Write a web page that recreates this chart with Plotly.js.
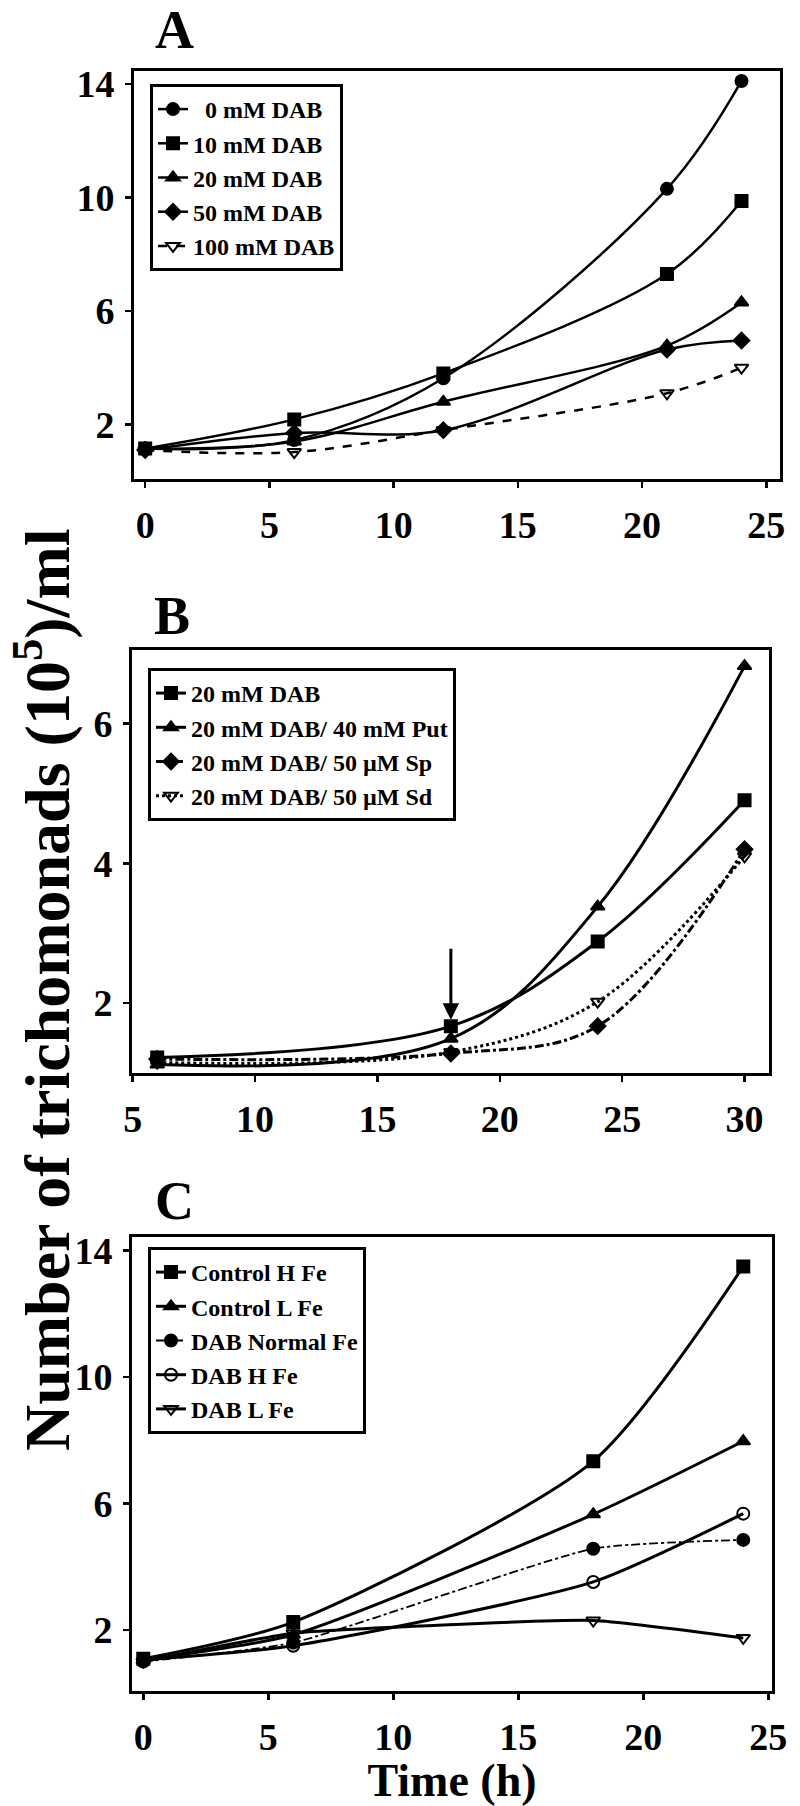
<!DOCTYPE html>
<html>
<head>
<meta charset="utf-8">
<script src="https://cdn.plot.ly/plotly-3.0.1.min.js"></script>
<style>html,body{margin:0;padding:0;background:#fff;}#chart{width:800px;height:1806px;}</style>
</head>
<body>
<div id="chart"></div>
<script>
// ---------- Panel A: DAB concentrations ----------
const timeA = [0, 6, 12, 21, 24];
const namesA = ["\u00A0\u00A00 mM DAB", "10 mM DAB", "20 mM DAB", "50 mM DAB", "100 mM DAB"];
const dab0   = [1.15, 1.45, 3.63, 10.3, 14.1];
const dab10  = [1.15, 2.18, 3.80, 7.30, 9.87];
const dab20  = [1.15, 1.40, 2.80, 4.78, 6.30];
const dab50  = [1.10, 1.70, 1.80, 4.64, 4.96];
const dab100 = [1.10, 1.03, 1.80, 3.10, 4.00];

// ---------- Panel B: polyamine rescue ----------
const timeB = [6, 18, 24, 30];
const namesB = ["20 mM DAB", "20 mM DAB/ 40 mM Put", "20 mM DAB/ 50 \u00B5M Sp", "20 mM DAB/ 50 \u00B5M Sd"];
const b20  = [1.22, 1.67, 2.88, 4.90];
const bPut = [1.12, 1.49, 3.38, 6.82];
const bSp  = [1.20, 1.28, 1.67, 4.20];
const bSd  = [1.15, 1.30, 2.02, 4.10];
const arrowX = 18, arrowTip = 1.76, arrowTail = 2.9;

// ---------- Panel C: iron conditions ----------
const timeC = [0, 6, 18, 24];
const namesC = ["Control H Fe", "Control L Fe", "DAB Normal Fe", "DAB H Fe", "DAB L Fe"];
const cHFe  = [1.09, 2.25, 7.34, 13.5];
const cLFe  = [1.05, 1.85, 5.66, 7.97];
const dNorm = [1.00, 1.60, 4.57, 4.85];
const dHFe  = [1.05, 1.50, 3.52, 5.68];
const dLFe  = [1.00, 1.90, 2.30, 1.75];

// tick labels
const ticksA_x = [0, 5, 10, 15, 20, 25];
const ticksA_y = [2, 6, 10, 14];
const ticksB_x = [5, 10, 15, 20, 25, 30];
const ticksB_y = [2, 4, 6];
const ticksC_x = [0, 5, 10, 15, 20, 25];
const ticksC_y = [2, 6, 10, 14];

const FAM = "Liberation Serif, 'Times New Roman', Times, serif";
const W = 800, H = 1806;
const px = v => v / W;
const py = v => 1 - v / H;

function tr(x, y, name, xa, ya, lg, symbol, dash, lw, smooth) {
  return {
    type: 'scatter', mode: 'lines+markers', x: x, y: y, name: name,
    xaxis: xa, yaxis: ya, legend: lg,
    line: {color: 'black', width: lw || 2.5, shape: 'spline', smoothing: smooth === undefined ? 1 : smooth, dash: dash || 'solid'},
    marker: {symbol: symbol, size: 12, color: 'black', line: {color: 'black', width: 2}}
  };
}

const data = [
  tr(timeA, dab0,   namesA[0], 'x',  'y',  'legend', 'circle', 'solid'),
  tr(timeA, dab10,  namesA[1], 'x',  'y',  'legend', 'square', 'solid'),
  tr(timeA, dab20,  namesA[2], 'x',  'y',  'legend', 'triangle-up', 'solid'),
  tr(timeA, dab50,  namesA[3], 'x',  'y',  'legend', 'diamond', 'solid'),
  tr(timeA, dab100, namesA[4], 'x',  'y',  'legend', 'triangle-down-open', 'dash'),

  tr(timeB, b20,  namesB[0], 'x2', 'y2', 'legend2', 'square', 'solid', 3),
  tr(timeB, bPut, namesB[1], 'x2', 'y2', 'legend2', 'triangle-up', 'solid', 3),
  tr(timeB, bSp,  namesB[2], 'x2', 'y2', 'legend2', 'diamond', 'dashdot', 3),
  tr(timeB, bSd,  namesB[3], 'x2', 'y2', 'legend2', 'triangle-down-open', 'dot', 3),

  tr(timeC, cHFe,  namesC[0], 'x3', 'y3', 'legend3', 'square', 'solid', 3, 0.7),
  tr(timeC, cLFe,  namesC[1], 'x3', 'y3', 'legend3', 'triangle-up', 'solid', 3, 0.6),
  tr(timeC, dNorm, namesC[2], 'x3', 'y3', 'legend3', 'circle', 'dashdot', 1.8, 0.5),
  tr(timeC, dHFe,  namesC[3], 'x3', 'y3', 'legend3', 'circle-open', 'solid', 3, 0.6),
  tr(timeC, dLFe,  namesC[4], 'x3', 'y3', 'legend3', 'triangle-down-open', 'solid', 3, 0.4)
];

function xax(dom, range, tv, anchor) {
  return {
    domain: dom, range: range, anchor: anchor, tickvals: tv, ticktext: tv.map(String),
    ticks: 'outside', ticklen: 6, tickwidth: 2.5, tickcolor: 'black',
    showline: true, linewidth: 3, linecolor: 'black', mirror: true,
    showgrid: false, zeroline: false, ticklabelstandoff: 4,
    tickfont: {family: FAM, size: 38, color: 'black', weight: 'bold'}
  };
}
function yax(dom, range, tv, anchor) {
  return {
    domain: dom, range: range, anchor: anchor, tickvals: tv, ticktext: tv.map(String),
    ticks: 'outside', ticklen: 6, tickwidth: 2.5, tickcolor: 'black',
    showline: true, linewidth: 3, linecolor: 'black', mirror: true,
    showgrid: false, zeroline: false, ticklabelstandoff: 3,
    tickfont: {family: FAM, size: 38, color: 'black', weight: 'bold'}
  };
}
function leg(x, y, size) {
  return {
    x: px(x), y: py(y), xanchor: 'left', yanchor: 'top',
    bgcolor: 'white', bordercolor: 'black', borderwidth: 3,
    font: {family: FAM, size: size, color: 'black', weight: 'bold'},
    tracegroupgap: 0, traceorder: 'normal'
  };
}

const xaxis3 = xax([px(132), px(772)], [-0.45, 25.15], ticksC_x, 'y3');
xaxis3.title = {text: 'Time (h)', standoff: 14, font: {family: FAM, size: 46, color: 'black', weight: 'bold'}};

const layout = {
  width: W, height: H,
  margin: {l: 0, r: 0, t: 0, b: 0},
  paper_bgcolor: 'white', plot_bgcolor: 'white',
  showlegend: true,
  font: {family: FAM, color: 'black'},
  xaxis:  xax([px(134), px(780)], [-0.45, 25.55], ticksA_x, 'y'),
  yaxis:  yax([py(479), py(71)], [0.08, 14.45], ticksA_y, 'x'),
  xaxis2: xax([px(132), px(769)], [4.97, 31.0], ticksB_x, 'y2'),
  yaxis2: yax([py(1073), py(650)], [1.0, 7.05], ticksB_y, 'x2'),
  xaxis3: xaxis3,
  yaxis3: yax([py(1691), py(1237)], [0.07, 14.43], ticksC_y, 'x3'),
  legend:  leg(150, 84, 24),
  legend2: leg(148, 668, 24),
  legend3: leg(148, 1247, 24),
  annotations: [
    {text: 'A', xref: 'paper', yref: 'paper', x: px(174), y: py(30), xanchor: 'center', yanchor: 'middle', showarrow: false,
     font: {family: FAM, size: 54, color: 'black', weight: 'bold'}},
    {text: 'B', xref: 'paper', yref: 'paper', x: px(172), y: py(616), xanchor: 'center', yanchor: 'middle', showarrow: false,
     font: {family: FAM, size: 54, color: 'black', weight: 'bold'}},
    {text: 'C', xref: 'paper', yref: 'paper', x: px(174), y: py(1201), xanchor: 'center', yanchor: 'middle', showarrow: false,
     font: {family: FAM, size: 54, color: 'black', weight: 'bold'}},
    {text: 'Number of trichomonads (10<sup>5</sup>)/ml', xref: 'paper', yref: 'paper', x: px(42), y: py(990),
     xanchor: 'center', yanchor: 'middle', textangle: -90, showarrow: false,
     font: {family: FAM, size: 64, color: 'black', weight: 'bold'}},
    {xref: 'x2', yref: 'y2', axref: 'x2', ayref: 'y2', x: arrowX, y: arrowTip, ax: arrowX, ay: arrowTail,
     text: ' ', showarrow: true, arrowhead: 2, arrowsize: 1.1, arrowwidth: 3, arrowcolor: 'black', standoff: 0}
  ]
};

Plotly.newPlot('chart', data, layout, {displayModeBar: false, staticPlot: true});
</script>
</body>
</html>
